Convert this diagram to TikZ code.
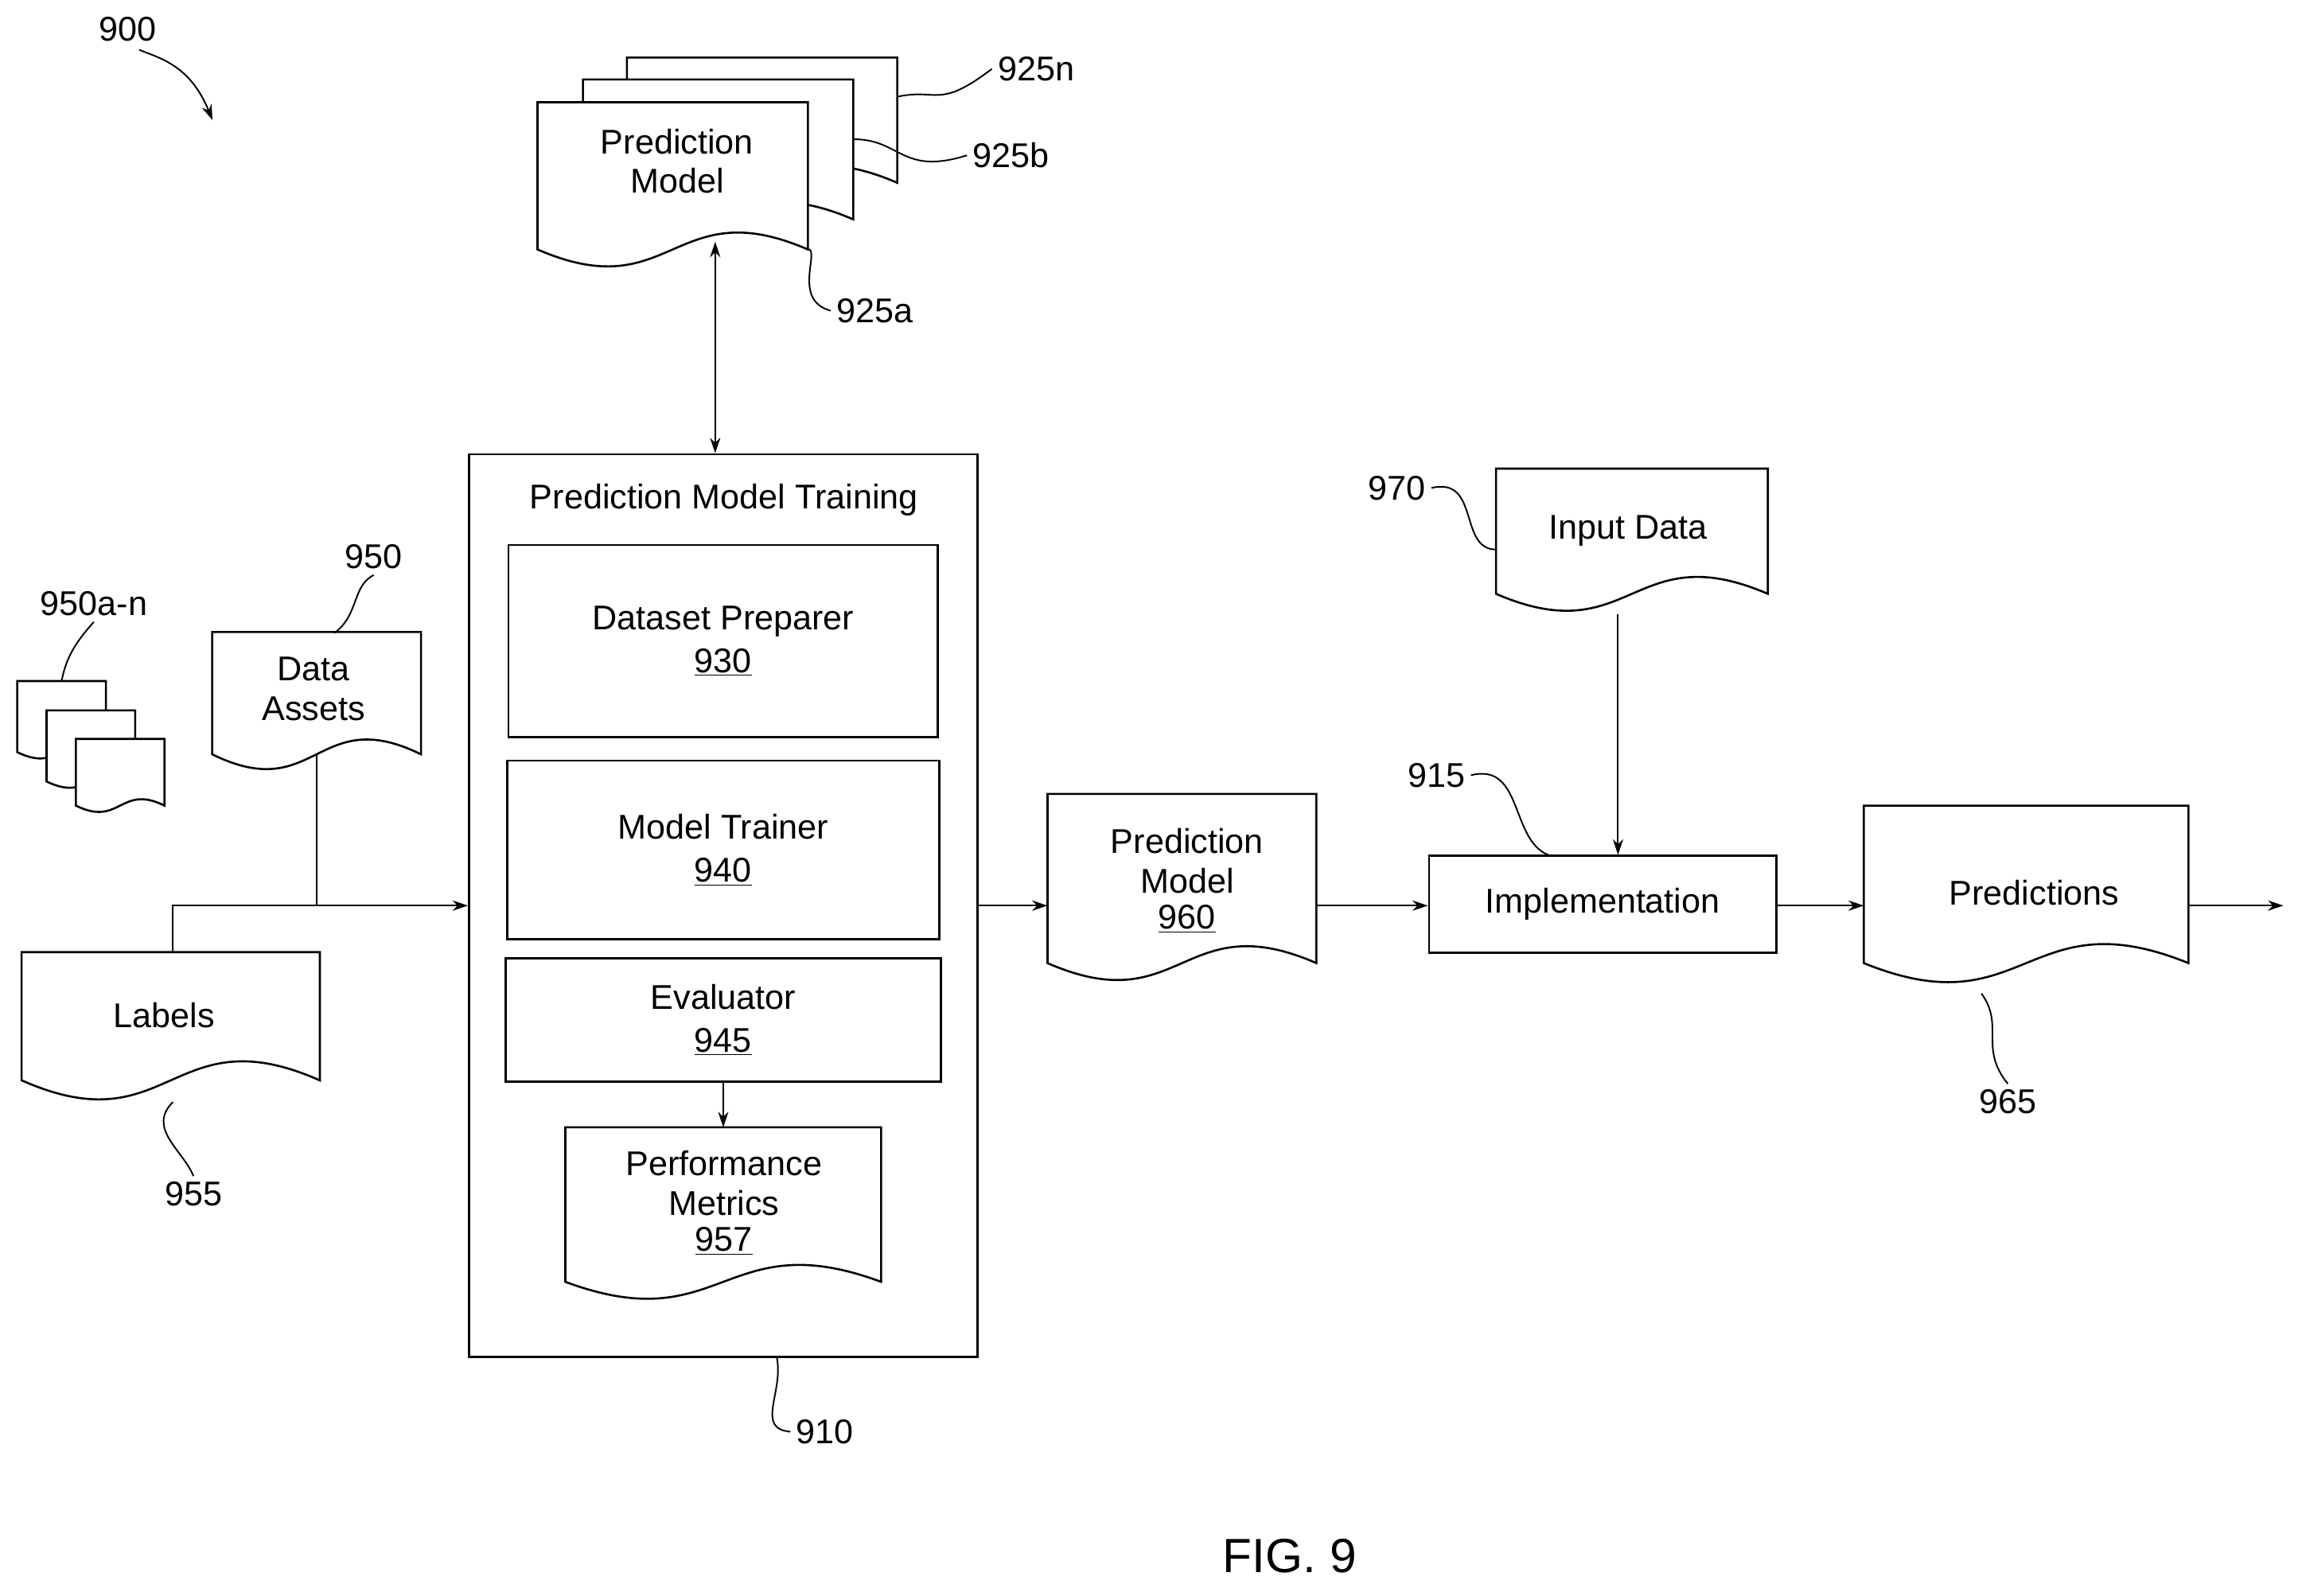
\documentclass[tikz,border=0pt]{standalone}
\usepackage{fontspec}
\setmainfont{Liberation Sans}
\usetikzlibrary{arrows.meta,calc}
\tikzset{
  x=0.03cm, y=-0.03cm,
  >={Stealth[length=9pt,width=6pt]},
  every node/.style={font=\fontsize{20}{23}\selectfont},
  box/.style={draw, line width=1.2pt, rectangle, inner sep=0pt},
  doc/.style={rectangle, inner sep=0pt, align=center},
  lead/.style={line width=0.9pt},
  conn/.style={line width=1pt}
}
% document symbol with wavy bottom around a node
\newcommand{\docwave}[2][40]{%
  \draw[line width=1.2pt, fill=white] (#2.south west) -- (#2.north west) -- (#2.north east) -- (#2.south east)
    .. controls ($(#2.south)+(0,-#1)$) and ($(#2.south)+(0,#1)$) .. (#2.south west) -- cycle;}
\begin{document}
\begin{tikzpicture}
\useasboundingbox (0,0) rectangle (1568,1089);

% figure reference
\node (l900) at (87,20) {900};
\draw[lead,->] (95,34) .. controls (110,40) and (130,45) .. (145,82);

% stacked prediction models
\node[doc, minimum width=184*0.03cm, minimum height=85*0.03cm] (pmn) at (520,82) {};
\node[doc, minimum width=184*0.03cm, minimum height=95*0.03cm] (pmb) at (490,102) {};
\node[doc, minimum width=184*0.03cm, minimum height=100*0.03cm] (pma) at (459,120) {};
\docwave{pmn}
\docwave{pmb}
\docwave{pma}
\node[doc] (pmtext) at (462,110) {Prediction\\Model};
\node (l925n) at (707,47) {925n};
\node (l925b) at (690,106) {925b};
\node (l925a) at (597,212) {925a};
\draw[lead] (pmn.east |- 0,66) .. controls (640,60) and (640,75) .. (l925n.west);
\draw[lead] (pmb.east |- 0,95) .. controls (615,95) and (615,120) .. (l925b.west);
\draw[lead] (pma.east |- 0,170) .. controls (560,170) and (540,205) .. (l925a.west);

% training block
\node[box, minimum width=347*0.03cm, minimum height=616*0.03cm] (train) at (493.5,618) {};
\node (title) at (494,341) {Prediction Model Training};
\node[box, minimum width=293*0.03cm, minimum height=131*0.03cm, align=center] (prep) at (493.5,437.5) {Dataset Preparer\\[2pt]\underline{930}};
\node[box, minimum width=295*0.03cm, minimum height=122*0.03cm, align=center] (trainer) at (493.5,580) {Model Trainer\\[2pt]\underline{940}};
\node[box, minimum width=297*0.03cm, minimum height=84*0.03cm, align=center] (eval) at (493.5,696) {Evaluator\\[2pt]\underline{945}};
\node[doc, minimum width=215*0.03cm, minimum height=105*0.03cm] (perf) at (493.5,822) {};
\docwave{perf}
\node[doc] at (494,821) {Performance\\Metrics\\[-2pt]\underline{957}};
\draw[conn,->] (eval) -- (perf);
\node (l910) at (563,977) {910};
\draw[lead] (530,926) .. controls (535,950) and (515,975) .. (l910.west);
\coordinate (pmfoot) at (488,165);
\draw[conn,<->] (pmfoot) -- (pmfoot |- train.north);

% inputs
\node[doc, minimum width=142*0.03cm, minimum height=83*0.03cm] (assets) at (216,473) {};
\docwave[35]{assets}
\node[doc] at (214,470) {Data\\Assets};
\node (l950) at (255,380) {950};
\draw[lead] (228,432) .. controls (245,420) and (240,400) .. (l950.south);
\node[doc, minimum width=60*0.03cm, minimum height=48*0.03cm] (da1) at (42,489) {};
\node[doc, minimum width=60*0.03cm, minimum height=48*0.03cm] (da2) at (62,509) {};
\node[doc, minimum width=60*0.03cm, minimum height=45*0.03cm] (da3) at (82,527) {};
\docwave[15]{da1}
\docwave[15]{da2}
\docwave[15]{da3}
\node (l950an) at (64,412) {950a-n};
\draw[lead] (da1.north) .. controls (45,450) and (50,440) .. (l950an.south);
\node[doc, minimum width=203*0.03cm, minimum height=87*0.03cm] (labels) at (116.5,693.5) {};
\docwave[45]{labels}
\node at (112,693) {Labels};
\node (l955) at (132,815) {955};
\draw[lead] (118,752) .. controls (100,770) and (125,785) .. (l955.north);
\coordinate (join) at (216,618);
\draw[conn] (assets.south) -- (join);
\draw[conn] (labels.north -| 118,0) |- (join);
\draw[conn,->] (join) -- (join -| train.west);

% outputs
\node[doc, minimum width=183*0.03cm, minimum height=115*0.03cm] (model) at (806.5,599.5) {};
\docwave[40]{model}
\node[doc] at (810,601) {Prediction\\Model\\[-2pt]\underline{960}};
\draw[conn,->] (train.east |- join) -- (model.west |- join);
\node[box, minimum width=237*0.03cm, minimum height=66*0.03cm] (impl) at (1093.5,617) {Implementation};
\draw[conn,->] (model.east |- join) -- (impl.west |- join);
\node (l915) at (980,529) {915};
\draw[lead] (l915.east) .. controls (1040,520) and (1030,575) .. (1058,584);
\node[doc, minimum width=185*0.03cm, minimum height=85*0.03cm] (input) at (1113.5,362.5) {};
\docwave[40]{input}
\node at (1111,362) {Input Data};
\node (l970) at (953,333) {970};
\draw[lead] (l970.east) .. controls (1010,325) and (995,375) .. (input.west |- 0,375);
\draw[conn,->] (input.south -| 1104,0) ++(0,14) -- (impl.north -| 1104,0);
\node[doc, minimum width=221*0.03cm, minimum height=107*0.03cm] (pred) at (1382.5,603.5) {};
\docwave[45]{pred}
\node at (1388,609) {Predictions};
\draw[conn,->] (impl.east |- join) -- (pred.west |- join);
\coordinate (out) at (1558,618);
\draw[conn,->] (pred.east |- join) -- (out);
\node (l965) at (1370,752) {965};
\draw[lead] (1352,678) .. controls (1368,700) and (1350,715) .. (l965.north);

\node[font=\fontsize{28}{32}\selectfont] (fig) at (880,1062) {FIG. 9};
\end{tikzpicture}
\end{document}
